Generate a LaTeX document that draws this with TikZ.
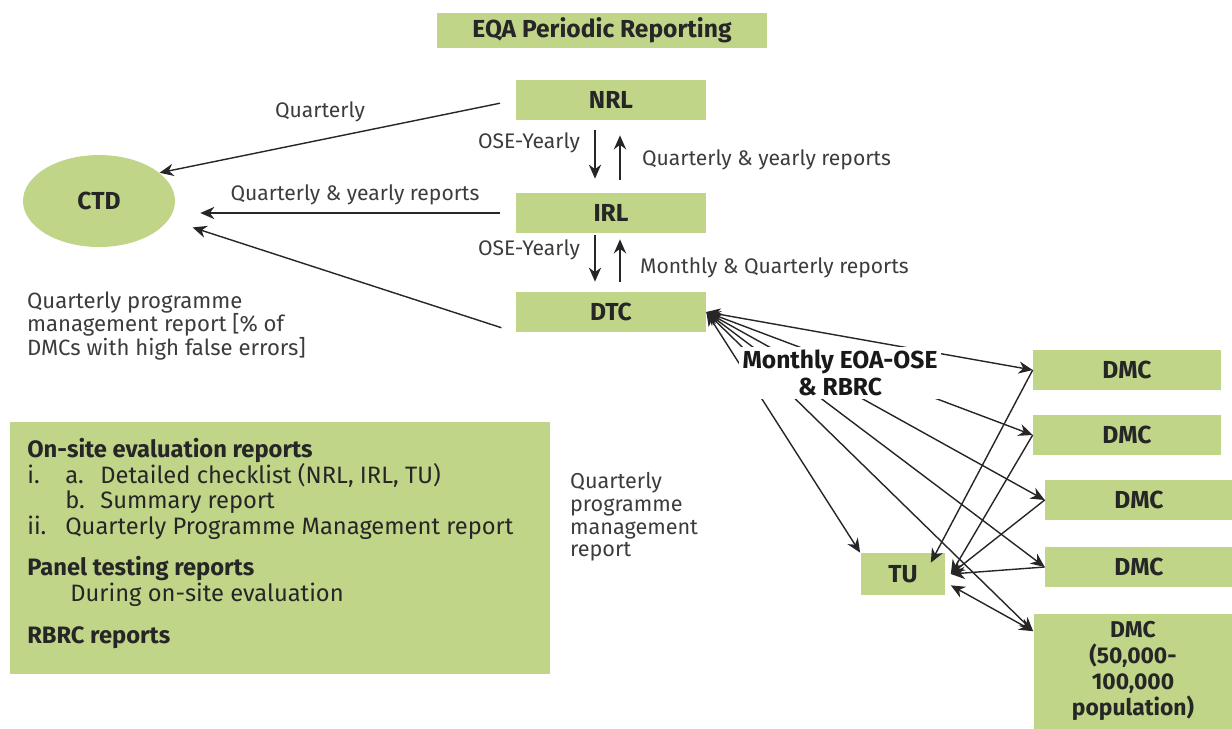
\documentclass[tikz,border=0pt]{standalone}
\usepackage{fontspec}
\setmainfont{Fira Sans}
\usetikzlibrary{arrows.meta,shapes.geometric}
\definecolor{boxgreen}{RGB}{193,213,137}
\definecolor{textgrey}{RGB}{60,60,60}

\begin{document}
\begin{tikzpicture}
[x=0.02cm,y=-0.02cm,
  boxDecorate/.style={shape=rectangle,fill=boxgreen,inner sep=0pt,minimum width=3.8cm,
    minimum height=0.8cm,text=black!85,font={\bfseries\fontsize{14}{16}\selectfont}},%
  arrowDecorate/.style={-{Stealth[length=8pt,width=7pt]},line width=0.8pt,black!85},%
  arrowBoth/.style={{Stealth[length=8pt,width=7pt]}-{Stealth[length=8pt,width=7pt]},line width=0.8pt,black!85},%
  labelDecorate/.style={text=textgrey,inner sep=1pt,font={\fontsize{12}{13}\selectfont}}]
\useasboundingbox (0,0) rectangle (1232,728);
%% boxes
\node (title) at (602,30) [boxDecorate,minimum width=6.6cm,minimum height=0.7cm] {EQA Periodic Reporting};
\foreach \nodename/\x/\y in {NRL/611/100, IRL/611/213, DTC/611/312}
{
  \node (\nodename) at (\x,\y) [boxDecorate] {\nodename};
}
\foreach \nodename/\x/\y in {dmcA/1127/370, dmcB/1127/435, dmcC/1139/500, dmcD/1139/567}
{
  \node (\nodename) at (\x,\y) [boxDecorate,minimum width=3.76cm] {DMC};
}
\node (dmcE) at (1133,671) [boxDecorate,minimum width=3.98cm,minimum height=2.3cm,align=center,
  font={\bfseries\fontsize{13}{14.8}\selectfont}] {DMC\\(50,000-\\100,000\\population)};
\node (TU) at (903,574) [boxDecorate,minimum width=1.7cm,minimum height=0.84cm] {TU};
\node (CTD) at (99,201) [boxDecorate,shape=ellipse,minimum width=3.04cm,minimum height=1.84cm] {CTD};
\node (evalbox) at (280,548) [boxDecorate,minimum width=10.8cm,minimum height=5.06cm] {};
\node (evaltext) at (27,438) [anchor=north west,align=left,inner sep=0pt,text=black!85,
  font={\fontsize{13.5}{14.5}\selectfont}] {\textbf{On-site evaluation reports}\\
  \makebox[0.76cm][l]{i.}\makebox[0.7cm][l]{a.}Detailed checklist (NRL, IRL, TU)\\
  \hspace*{0.76cm}\makebox[0.7cm][l]{b.}Summary report\\
  \makebox[0.76cm][l]{ii.}Quarterly Programme Management report\\[0.33cm]
  \textbf{Panel testing reports}\\
  \hspace*{0.86cm}During on-site evaluation\\[0.33cm]
  \textbf{RBRC reports}};
%% edges to CTD
\draw[arrowDecorate,shorten <=0.32cm] (NRL.west) -- (CTD.25);
\draw[arrowDecorate,shorten <=0.32cm,shorten >=0.5cm] (IRL.west) -- (CTD.east |- IRL.west);
\draw[arrowDecorate,shorten <=0.3cm,shorten >=0.5cm] (DTC.south west) -- (CTD.-15);
%% edges between labs
\draw[arrowDecorate,shorten <=0.2cm,shorten >=0.28cm] ([xshift=-0.32cm]NRL.south) -- ([xshift=-0.32cm]IRL.north);
\draw[arrowDecorate,shorten <=0.26cm,shorten >=0.3cm] ([xshift=0.18cm]IRL.north) -- ([xshift=0.18cm]NRL.south);
\draw[arrowDecorate,shorten <=0.04cm,shorten >=0.2cm] ([xshift=-0.32cm]IRL.south) -- ([xshift=-0.32cm]DTC.north);
\draw[arrowDecorate,shorten <=0.2cm,shorten >=0.12cm] ([xshift=0.18cm]DTC.north) -- ([xshift=0.18cm]IRL.south);
%% edges from DTC
\path
\foreach \endnode in {dmcA, dmcB, dmcC, dmcD}
{
  (DTC.east) edge[arrowBoth] (\endnode.west)
};
\draw[arrowBoth] (DTC.east) -- ([yshift=-0.36cm]dmcE.north west);
\draw[arrowBoth] (DTC.east) -- (TU.north west);
%% edges to TU
\draw[arrowDecorate] (dmcA.west) -- ([shift={(-0.3cm,-0.2cm)}]TU.north east);
\path
\foreach \startnode in {dmcB, dmcC, dmcD}
{
  (\startnode.west) edge[arrowDecorate] ([xshift=0.1cm]TU.east)
};
\draw[arrowBoth] ([xshift=0.1cm,yshift=0.2cm]TU.south east) -- ([yshift=-0.36cm]dmcE.north west);
%% labels
\node (lblMonthly) at (840,373) [fill=white,inner sep=2pt,align=center,text=black!90,
  font={\bfseries\fontsize{14}{15}\selectfont}] {Monthly EOA-OSE\\\& RBRC};
\node (lblQ) at (320,112) [labelDecorate] {Quarterly};
\node (lblQY) at (355,195) [labelDecorate] {Quarterly \& yearly reports};
\node (lblOseA) at (582,143) [labelDecorate,anchor=east] {OSE-Yearly};
\node (lblOseB) at (582,250) [labelDecorate,anchor=east] {OSE-Yearly};
\node (lblQYb) at (640,160) [labelDecorate,anchor=west] {Quarterly \& yearly reports};
\node (lblMQ) at (638,268) [labelDecorate,anchor=west] {Monthly \& Quarterly reports};
\node (lblCtdNote) at (25,290) [labelDecorate,anchor=north west,align=left,
  font={\fontsize{12.6}{13.2}\selectfont}] {Quarterly programme\\management report [\% of\\DMCs with high false errors]};
\node (lblPmr) at (568,470) [labelDecorate,anchor=north west,align=left,
  font={\fontsize{12.3}{13}\selectfont}] {Quarterly\\programme\\management\\report};
\end{tikzpicture}
\end{document}
